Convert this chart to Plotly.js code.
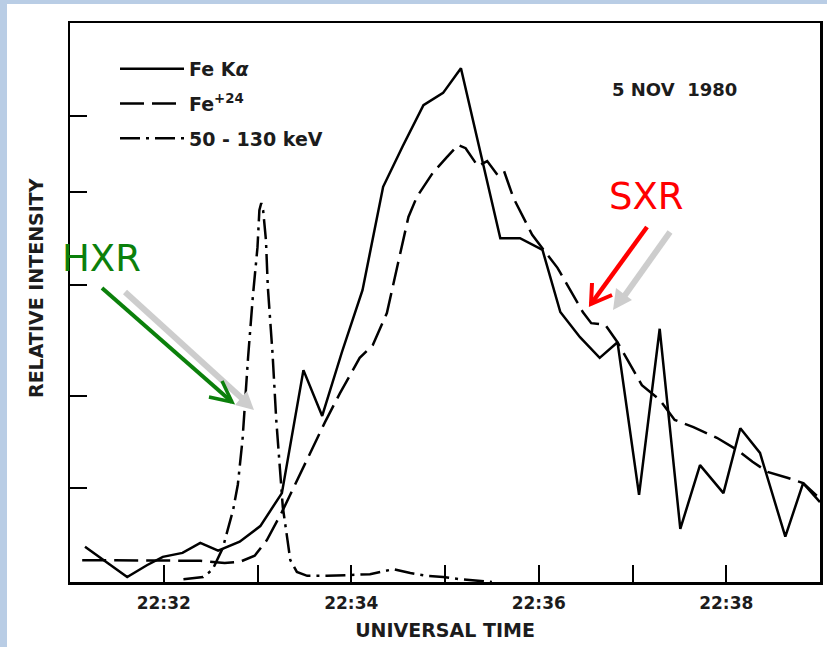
<!DOCTYPE html>
<html>
<head>
<meta charset="utf-8">
<script src="https://cdn.plot.ly/plotly-3.0.1.min.js"></script>
<style>
  html, body { margin: 0; padding: 0; background: #b9cde5; }
  #chart { position: absolute; left: 7px; top: 4px; width: 820px; height: 643px; background: #fff; }
</style>
</head>
<body>
<div id="chart"></div>
<script>
// Time in minutes after 22:00 UT, intensity in relative units (0 = baseline)
const feKaTime = [31.16, 31.38, 31.61, 31.82, 31.99, 32.20, 32.39, 32.58, 32.81, 33.03,
  33.26, 33.49, 33.69, 33.90, 34.12, 34.34, 34.55, 34.77, 34.98, 35.17,
  35.38, 35.59, 35.80, 36.04, 36.23, 36.44, 36.65, 36.84, 37.07, 37.29,
  37.51, 37.72, 37.97, 38.15, 38.36, 38.63, 38.82, 39.00];
const feKaIntensity = [6.3, 3.6, 0.9, 3.0, 4.5, 5.2, 7.0, 5.6, 7.2, 10.0,
  15.9, 37.9, 29.7, 41.1, 52.2, 70.7, 78.0, 85.3, 87.5, 91.9,
  76.4, 61.5, 61.5, 59.4, 48.3, 43.8, 40.1, 42.9, 15.6, 45.3,
  9.5, 20.9, 15.9, 27.5, 23.1, 8.1, 17.7, 14.3];

const fe24Time = [31.13, 31.43, 31.75, 32.07, 32.39, 32.65, 32.81, 32.97, 33.10, 33.26,
  33.45, 33.72, 33.88, 34.09, 34.23, 34.38, 34.50, 34.61, 34.70, 34.87,
  35.02, 35.14, 35.22, 35.35, 35.45, 35.56, 35.63, 35.73, 35.93, 36.20,
  36.47, 36.56, 36.71, 36.84, 37.10, 37.29, 37.45, 37.65, 37.90, 38.12,
  38.28, 38.44, 38.66, 38.82, 38.98];
const fe24Intensity = [3.9, 3.9, 3.9, 3.9, 3.8, 3.4, 3.6, 4.7, 7.5, 12.5,
  19.1, 28.6, 33.8, 40.1, 42.4, 48.1, 57.1, 65.3, 68.9, 73.2,
  76.0, 78.2, 77.6, 74.4, 75.3, 72.8, 73.5, 68.7, 62.1, 56.2,
  48.3, 46.3, 46.0, 42.9, 35.2, 32.6, 29.0, 27.7, 25.8, 23.6,
  21.5, 19.7, 18.6, 17.7, 15.2];

const hxrTime = [32.21, 32.42, 32.52, 32.63, 32.74, 32.79, 32.84, 32.87, 32.90, 32.95,
  33.00, 33.02, 33.04, 33.06, 33.09, 33.11, 33.16, 33.20, 33.24, 33.27,
  33.32, 33.35, 33.42, 33.53, 33.74, 33.96, 34.20, 34.45, 34.63, 34.81,
  34.98, 35.16, 35.34, 35.50];
const hxrIntensity = [0.5, 0.9, 2.2, 6.1, 12.9, 17.4, 25.4, 33.1, 40.3, 51.0,
  59.9, 66.5, 67.8, 66.5, 61.2, 52.8, 41.0, 29.0, 19.5, 13.4,
  7.5, 3.9, 1.8, 1.1, 1.1, 1.3, 1.4, 2.3, 1.6, 1.1,
  0.9, 0.5, 0.2, 0.0];

const timeTicks = [32, 34, 36, 38];
const timeTickLabels = ['22:32', '22:34', '22:36', '22:38'];
const intensityTicks = [16.8, 33.3, 53.2, 69.8, 83.4];

const ink = '#1c1c1c';
const boldFont = (size) => ({ family: 'DejaVu Sans', weight: 'bold', size: size, color: ink });

const traces = [
  { x: feKaTime, y: feKaIntensity, name: 'Fe K<i>α</i>', legendgroup: 'ka', mode: 'lines',
    line: { color: '#000', width: 2.5 } },
  { x: fe24Time, y: fe24Intensity, name: 'Fe<sup>+24</sup>', legendgroup: 'fe24', mode: 'lines',
    line: { color: '#000', width: 2.5, dash: '24px,8px' } },
  { x: hxrTime, y: hxrIntensity, name: '50 - 130 keV', legendgroup: 'hxr', mode: 'lines',
    line: { color: '#000', width: 2.5, dash: '20px,6px,3px,6px' } }
];

// page-pixel helpers for the overlay annotations (plot area spans 70..820 x 23..582)
const px = X => (X - 70) / 750;
const py = Y => (582 - Y) / 559;
const pt = (X, Y) => px(X).toFixed(4) + ',' + py(Y).toFixed(4);

function arrowShapes(color, width, tail, tip, armA, armB) {
  return [
    { type: 'line', xref: 'paper', yref: 'paper', x0: px(tail[0]), y0: py(tail[1]),
      x1: px(tip[0]), y1: py(tip[1]), line: { color: color, width: width } },
    { type: 'path', xref: 'paper', yref: 'paper',
      path: 'M' + pt(armA[0], armA[1]) + 'L' + pt(tip[0], tip[1]) + 'L' + pt(armB[0], armB[1]),
      line: { color: color, width: width - 0.5 } }
  ];
}
function shadowArrow(tail, shaftEnd, head) {
  return [
    { type: 'line', xref: 'paper', yref: 'paper', x0: px(tail[0]), y0: py(tail[1]),
      x1: px(shaftEnd[0]), y1: py(shaftEnd[1]), line: { color: '#cdcdcd', width: 6 } },
    { type: 'path', xref: 'paper', yref: 'paper',
      path: 'M' + head.map(p => pt(p[0], p[1])).join('L') + 'Z',
      fillcolor: '#cdcdcd', line: { width: 0 } }
  ];
}

const shapes = [].concat(
  shadowArrow([125, 292], [246, 402], [[254, 410], [235, 405], [247, 391]]),
  arrowShapes('#0b800b', 4, [102, 288], [232, 402], [209, 397], [222, 381]),
  shadowArrow([670, 232], [623, 298], [[613, 310], [632, 300], [616, 288]]),
  arrowShapes('#ff0000', 4.5, [647, 227], [591, 304], [592, 283], [612, 295])
);

const layout = {
  width: 820, height: 643,
  margin: { l: 63, r: 7, t: 19, b: 65 },
  paper_bgcolor: '#fff', plot_bgcolor: '#fff',
  font: boldFont(17),
  showlegend: true,
  legend: {
    x: px(115), y: py(50), xanchor: 'left', yanchor: 'top',
    bgcolor: 'rgba(0,0,0,0)', borderwidth: 0,
    font: boldFont(19),
    itemwidth: 64, tracegroupgap: 7
  },
  xaxis: {
    range: [31, 39], showgrid: false, zeroline: false,
    showline: true, mirror: true, linecolor: '#000', linewidth: 2.5,
    ticks: 'inside', ticklen: 17, tickwidth: 2, tickcolor: '#000',
    tickvals: timeTicks, ticktext: timeTickLabels, ticklabelstandoff: 4,
    minor: { dtick: 1, tick0: 31, ticks: 'inside', ticklen: 17, tickwidth: 2, tickcolor: '#000', showgrid: false },
    tickfont: boldFont(17),
    title: { text: 'UNIVERSAL TIME', standoff: 12, font: boldFont(19) }
  },
  yaxis: {
    range: [0, 100], showgrid: false, zeroline: false,
    showline: true, mirror: true, linecolor: '#000', linewidth: 2.5,
    ticks: 'inside', ticklen: 17, tickwidth: 2, tickcolor: '#000',
    tickvals: intensityTicks, showticklabels: false
  },
  shapes: shapes,
  annotations: [
    { xref: 'paper', yref: 'paper', x: px(36), y: py(288), text: 'RELATIVE INTENSITY',
      textangle: -90, showarrow: false, xanchor: 'center', yanchor: 'middle',
      font: boldFont(19) },
    { xref: 'paper', yref: 'paper', x: px(674), y: py(89), text: '5 NOV  1980',
      showarrow: false, xanchor: 'center', yanchor: 'middle',
      font: boldFont(18) },
    { xref: 'paper', yref: 'paper', x: px(101), y: py(258), text: 'HXR',
      showarrow: false, xanchor: 'center', yanchor: 'middle',
      font: { family: 'DejaVu Sans', weight: 'normal', size: 37, color: '#0b800b' } },
    { xref: 'paper', yref: 'paper', x: px(646), y: py(196), text: 'SXR',
      showarrow: false, xanchor: 'center', yanchor: 'middle',
      font: { family: 'DejaVu Sans', weight: 'normal', size: 37, color: '#ff0000' } }
  ]
};

Plotly.newPlot('chart', traces, layout, { displayModeBar: false, staticPlot: true });
</script>
</body>
</html>
